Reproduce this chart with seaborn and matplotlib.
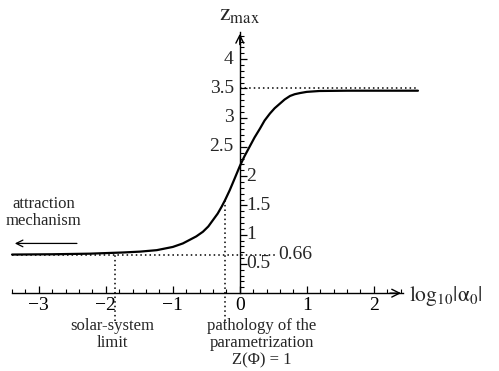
import matplotlib
matplotlib.use('Agg')
import matplotlib.pyplot as plt
import numpy as np
import pandas as pd
import seaborn as sns
from matplotlib.ticker import FixedLocator, NullFormatter

# curve
log_alpha = [-3.4, -2.8, -2.24, -2.0, -1.75, -1.49, -1.24, -1.0, -0.85, -0.75, -0.65,
             -0.55, -0.47, -0.40, -0.33, -0.27, -0.22, -0.15, -0.08, 0.0, 0.07, 0.15,
             0.22, 0.30, 0.37, 0.45, 0.52, 0.60, 0.67, 0.75, 0.82, 0.90, 1.0, 1.19,
             1.6, 2.1, 2.66]
z_max = [0.66, 0.665, 0.675, 0.685, 0.695, 0.71, 0.735, 0.79, 0.85, 0.91, 0.97,
         1.05, 1.14, 1.25, 1.36, 1.48, 1.59, 1.76, 1.95, 2.17, 2.34, 2.51,
         2.66, 2.81, 2.95, 3.07, 3.16, 3.24, 3.31, 3.37, 3.40, 3.42, 3.44, 3.455,
         3.46, 3.46, 3.46]

# reference levels and markers
z_upper = 3.5
z_lower = 0.66
x_solar = -1.87
x_patho = -0.22
z_solar = 0.68
z_patho = 1.59

x_major = [-3, -2, -1, 0, 1, 2]
y_left_labels = [2.5, 3, 3.5, 4]
y_right_labels = [0.5, 1, 1.5, 2]

sns.set_theme(style='white')
plt.rcParams['font.family'] = ['Liberation Serif', 'DejaVu Serif']
plt.rcParams['mathtext.fontset'] = 'stix'

fig = plt.figure(figsize=(4.99, 3.71), dpi=100)
ax = fig.add_axes([0, 0, 1, 1])
ax.set_xlim(-3.58, 3.87)
ax.set_ylim(-1.33, 5.01)

df = pd.DataFrame({'x': log_alpha, 'z': z_max})
sns.lineplot(data=df, x='x', y='z', color='black', linewidth=1.6, sort=False, ax=ax)

dot = dict(color='black', linewidth=1.1, dashes=(1, 2))
ax.plot([0, log_alpha[-1]], [z_upper, z_upper], **dot)
ax.plot([log_alpha[0], 0.55], [z_lower, z_lower], **dot)
ax.plot([x_solar, x_solar], [-0.47, z_solar], **dot)
ax.plot([x_patho, x_patho], [-0.47, z_patho], **dot)

# axes through the origin
for s in ['top', 'right']:
    ax.spines[s].set_visible(False)
ax.spines['bottom'].set_position(('data', 0))
ax.spines['left'].set_position(('data', 0))
ax.spines['bottom'].set_bounds(-3.4, 2.43)
ax.spines['left'].set_bounds(0, 4.46)
for s in ['bottom', 'left']:
    ax.spines[s].set_color('black')
    ax.spines[s].set_linewidth(1.0)
ax.annotate('', xy=(2.45, 0), xytext=(2.2, 0),
            arrowprops=dict(arrowstyle='->', color='black', lw=1.0, mutation_scale=14))
ax.annotate('', xy=(0, 4.48), xytext=(0, 4.2),
            arrowprops=dict(arrowstyle='->', color='black', lw=1.0, mutation_scale=14))

ax.xaxis.set_major_locator(FixedLocator(x_major))
ax.xaxis.set_minor_locator(FixedLocator(np.arange(-3.4, 2.41, 0.2)))
ax.yaxis.set_major_locator(FixedLocator(y_right_labels + y_left_labels))
ax.yaxis.set_minor_locator(FixedLocator(np.arange(0.1, 4.45, 0.1)))
ax.yaxis.set_major_formatter(NullFormatter())
ax.tick_params(axis='both', which='major', direction='in', length=5, width=0.9,
               color='black', bottom=True, left=True)
ax.tick_params(axis='both', which='minor', direction='in', length=3, width=0.8,
               color='black', bottom=True, left=True)
ax.tick_params(axis='x', labelsize=14, pad=3, labelcolor='black')
ax.set_xlabel('')
ax.set_ylabel('')

for v in y_left_labels:
    ax.text(-0.09, v, f'{v:g}', ha='right', va='center', fontsize=14)
for v in y_right_labels:
    ax.text(0.1, v, f'{v:g}', ha='left', va='center', fontsize=14)
ax.text(0.58, z_lower, '0.66', ha='left', va='center', fontsize=14)

ax.text(0, 4.75, r'$\mathrm{z_{max}}$', ha='center', va='center', fontsize=17)
ax.text(2.53, -0.05, r'$\mathrm{log_{10}|α_0|}$', ha='left', va='center', fontsize=15.5)

ax.annotate('', xy=(-3.4, 0.85), xytext=(-2.39, 0.85),
            arrowprops=dict(arrowstyle='->', color='black', lw=0.9, mutation_scale=12))
ax.text(-2.93, 1.38, 'attraction\nmechanism', ha='center', va='center',
        fontsize=12, linespacing=1.1)
ax.text(-1.9, -0.7, 'solar-system\nlimit', ha='center', va='center',
        fontsize=12, linespacing=1.1)
ax.text(0.33, -0.86, 'pathology of the\nparametrization\nZ(Φ) = 1', ha='center',
        va='center', fontsize=12, linespacing=1.1)

fig.savefig('out.png', dpi=100)
